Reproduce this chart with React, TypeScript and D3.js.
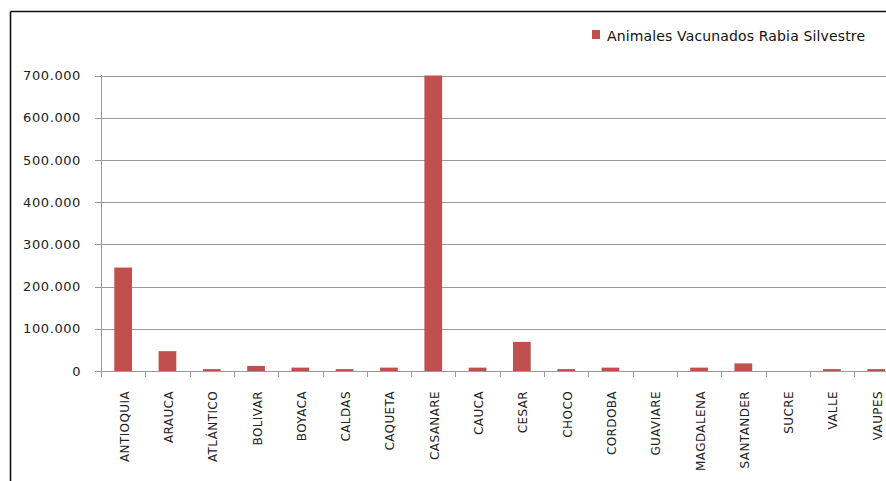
import React from "react";
import * as d3 from "d3";

// Departamentos y animales vacunados contra rabia silvestre
const categories: string[] = [
  "ANTIOQUIA", "ARAUCA", "ATLÁNTICO", "BOLIVAR", "BOYACA", "CALDAS",
  "CAQUETA", "CASANARE", "CAUCA", "CESAR", "CHOCO", "CORDOBA",
  "GUAVIARE", "MAGDALENA", "SANTANDER", "SUCRE", "VALLE", "VAUPES",
];
const vacunados: number[] = [
  245000, 47000, 4500, 12000, 8000, 4500,
  8000, 700000, 8000, 69000, 4500, 8000,
  0, 8000, 18000, 0, 4500, 4500,
];
const yTicks: number[] = [0, 100000, 200000, 300000, 400000, 500000, 600000, 700000];
const seriesName = "Animales Vacunados Rabia Silvestre";

const W = 886;
const H = 481;
const BAR = "#C0504D";
const FONT = "'DejaVu Sans', Verdana, sans-serif";

export default function App() {
  const left = 101;
  const step = 44.3;
  const x = d3
    .scaleBand<string>()
    .domain(categories)
    .range([left, left + step * categories.length])
    .padding(0);
  const y = d3.scaleLinear().domain([0, 700000]).range([371, 75.5]);
  const barW = x.bandwidth() / 2.5;
  const fmt = (v: number) => d3.format(",")(v).replace(/,/g, ".");

  return (
    <svg
      width={W}
      height={H}
      style={{ position: "absolute", left: 0, top: 0, background: "#fff" }}
      fontFamily={FONT}
    >
      {/* marco */}
      <line x1={10.5} x2={W} y1={11.5} y2={11.5} stroke="#111" strokeWidth={1.6} />
      <line x1={10.5} x2={10.5} y1={11.5} y2={H} stroke="#111" strokeWidth={1.6} />

      {/* leyenda */}
      <rect x={592} y={30} width={8} height={9} fill={BAR} />
      <text x={607} y={40.5} fontSize={14} fill="#111" textLength={258} lengthAdjust="spacing">
        {seriesName}
      </text>

      {/* cuadrícula y eje Y */}
      {yTicks.map((t) => (
        <g key={t}>
          {t > 0 && (
            <line x1={95} x2={W} y1={Math.round(y(t)) + 0.5} y2={Math.round(y(t)) + 0.5} stroke="#9a9a9a" strokeWidth={1} />
          )}
          {t === 0 && (
            <line x1={95} x2={101} y1={Math.round(y(t)) + 0.5} y2={Math.round(y(t)) + 0.5} stroke="#9a9a9a" strokeWidth={1} />
          )}
          <text
            x={81}
            y={y(t) + 4.6}
            fontSize={13}
            textAnchor="end"
            fill="#222"
            letterSpacing={0.6}
          >
            {fmt(t)}
          </text>
        </g>
      ))}
      <line x1={101.5} x2={101.5} y1={75} y2={371.5} stroke="#9a9a9a" strokeWidth={1} />

      {/* barras */}
      {categories.map((c, i) => {
        const x0 = (x(c) as number) + (x.bandwidth() - barW) / 2;
        const top = y(vacunados[i]);
        return (
          <rect key={c} x={x0} y={top} width={barW} height={y(0) - top} fill={BAR} />
        );
      })}

      {/* eje X */}
      <line x1={101} x2={W} y1={371.5} y2={371.5} stroke="#9a9a9a" strokeWidth={1} />
      {categories.map((c) => {
        const xt = Math.round(x(c) as number) + 0.5;
        return (
          <line key={"t" + c} x1={xt} x2={xt} y1={371} y2={377} stroke="#9a9a9a" strokeWidth={1} />
        );
      })}
      {categories.map((c) => {
        const cx = (x(c) as number) + x.bandwidth() / 2 + 5.5;
        return (
          <text
            key={"l" + c}
            transform={`translate(${cx},391) rotate(-90)`}
            fontSize={12}
            textAnchor="end"
            fill="#222"
            letterSpacing={0.4}
          >
            {c}
          </text>
        );
      })}
    </svg>
  );
}
